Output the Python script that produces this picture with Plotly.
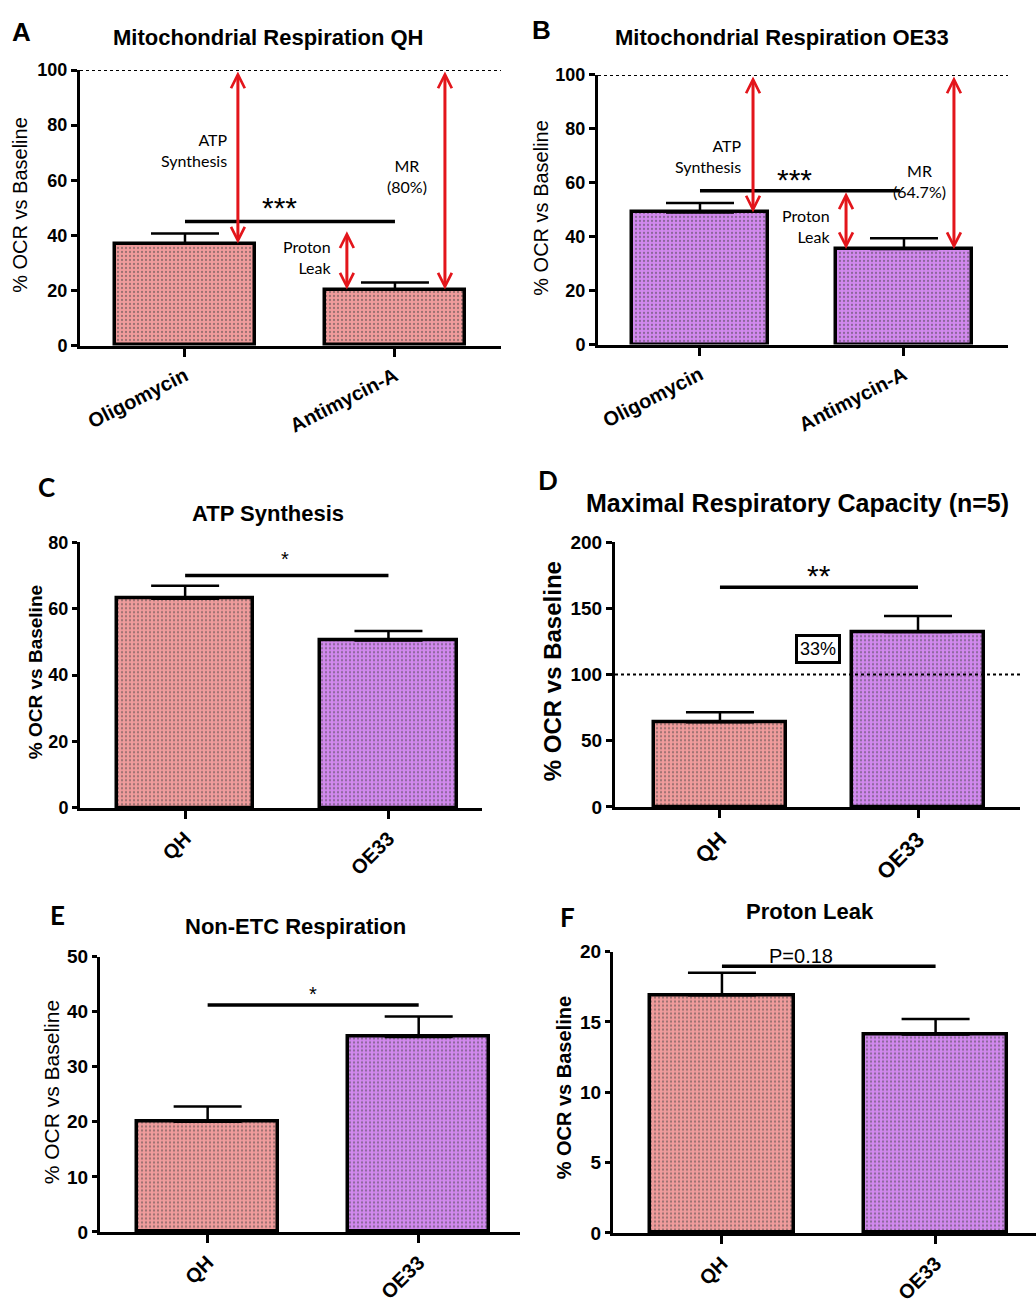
import plotly.graph_objects as go

W, H = 1036, 1304

# ---------------- data ----------------
resp_cats = ["Oligomycin", "Antimycin-A"]
qh_resp_vals = [37.0, 20.3]
qh_resp_err = [3.7, 2.6]
oe_resp_vals = [49.0, 35.4]
oe_resp_err = [3.5, 4.0]

groups = ["QH", "OE33"]
atp_vals = [63.0, 50.4]
atp_err = [3.9, 2.9]
mrc_vals = [64.0, 132.3]
mrc_err = [7.5, 12.0]
netc_vals = [20.0, 35.4]
netc_err = [2.8, 3.7]
leak_vals = [16.9, 14.1]
leak_err = [1.6, 1.1]

sig_labels = ["***", "***", "*", "**", "*", "P=0.18"]
sig_heights = [45, 57, 70, 166, 41.2, 18.95]

PINK_BG, PINK_FG = "#F09C9C", "#A8485A"
PURP_BG, PURP_FG = "#D189EE", "#8A3CAA"

FONT = "Liberation Sans, Arial, sans-serif"
CAL = "Lato, Carlito, sans-serif"


def px(x):
    return x / W


def py(y):
    return 1 - y / H


panels = [
    dict(letter="A", title="Mitochondrial Respiration QH", cats=resp_cats, vals=qh_resp_vals, err=qh_resp_err,
         bgs=[PINK_BG, PINK_BG], fgs=[PINK_FG, PINK_FG], xpx=(80, 501), ypx=(61, 341), yr=(0, 100), dtick=20,
         xr=(-0.5, 1.505), tickangle=-27, xtf=20, ytf=18, ytl=6, letter_pos=(21, 22), letter_font=FONT,
         title_pos=(268, 28), title_size=22, ytitle_pos=(20, 198), ytitle_size=20, ytitle_bold=False),
    dict(letter="B", title="Mitochondrial Respiration OE33", cats=resp_cats, vals=oe_resp_vals, err=oe_resp_err,
         bgs=[PURP_BG, PURP_BG], fgs=[PURP_FG, PURP_FG], xpx=(598, 1008), ypx=(66, 340), yr=(0, 100), dtick=20,
         xr=(-0.5, 1.51), tickangle=-27, xtf=20, ytf=18, ytl=6, letter_pos=(541, 20), letter_font=FONT,
         title_pos=(782, 28), title_size=22, ytitle_pos=(541, 201), ytitle_size=20, ytitle_bold=False),
    dict(letter="C", title="ATP Synthesis", cats=groups, vals=atp_vals, err=atp_err,
         bgs=[PINK_BG, PURP_BG], fgs=[PINK_FG, PURP_FG], xpx=(80, 482), ypx=(541, 811), yr=(0, 80), dtick=20,
         xr=(-0.517, 1.46), tickangle=-45, xtf=20, ytf=18, ytl=5, letter_pos=(46, 485), letter_font=CAL,
         title_pos=(268, 512), title_size=22, ytitle_pos=(35, 673), ytitle_size=19, ytitle_bold=True),
    dict(letter="D", title="Maximal Respiratory Capacity (n=5)", cats=groups, vals=mrc_vals, err=mrc_err,
         bgs=[PINK_BG, PURP_BG], fgs=[PINK_FG, PURP_FG], xpx=(615, 1020), ypx=(541, 810), yr=(0, 200), dtick=50,
         xr=(-0.53, 1.515), tickangle=-45, xtf=22, ytf=19, ytl=6, letter_pos=(548, 478), letter_font=CAL,
         title_pos=(797, 501), title_size=25, ytitle_pos=(552, 672), ytitle_size=24, ytitle_bold=True),
    dict(letter="E", title="Non-ETC Respiration", cats=groups, vals=netc_vals, err=netc_err,
         bgs=[PINK_BG, PURP_BG], fgs=[PINK_FG, PURP_FG], xpx=(100, 520), ypx=(962, 1242), yr=(0, 50), dtick=10,
         xr=(-0.51, 1.48), tickangle=-45, xtf=20, ytf=19, ytl=5, letter_pos=(57, 920), letter_font=CAL,
         title_pos=(295, 932), title_size=22, ytitle_pos=(51, 1100), ytitle_size=21, ytitle_bold=False),
    dict(letter="F", title="Proton Leak", cats=groups, vals=leak_vals, err=leak_err,
         bgs=[PINK_BG, PURP_BG], fgs=[PINK_FG, PURP_FG], xpx=(613, 1036), ypx=(957, 1243), yr=(0, 20), dtick=5,
         xr=(-0.51, 1.47), tickangle=-45, xtf=20, ytf=19, ytl=5, letter_pos=(567, 922), letter_font=CAL,
         title_pos=(810, 916), title_size=22, ytitle_pos=(564, 1096), ytitle_size=20, ytitle_bold=True),
]

fig = go.Figure()
annotations = []
shapes = []

for i, p in enumerate(panels):
    n = "" if i == 0 else str(i + 1)
    xa, ya = "x" + n, "y" + n
    fig.add_trace(go.Bar(
        x=[0, 1], y=p["vals"], width=0.67,
        marker=dict(color=p["bgs"], line=dict(color="black", width=3.5),
                    pattern=dict(shape=".", bgcolor=p["bgs"], fgcolor=p["fgs"], size=4, solidity=0.25)),
        error_y=dict(type="data", array=p["err"], arrayminus=[0, 0], symmetric=False,
                     color="black", thickness=2.5, width=34),
        xaxis=xa, yaxis=ya, showlegend=False, hoverinfo="skip"))
    axcommon = dict(showline=True, linewidth=3, linecolor="black", ticks="outside", tickwidth=2.5,
                    tickcolor="black", showgrid=False, zeroline=False, mirror=False)
    fig.update_layout(**{
        ("xaxis" + n): dict(domain=[px(p["xpx"][0]), px(p["xpx"][1])], range=list(p["xr"]), anchor=ya,
                            tickvals=[0, 1], ticktext=p["cats"], tickangle=p["tickangle"], ticklen=8,
                            tickfont=dict(family=FONT, size=p["xtf"], color="black", weight="bold"),
                            fixedrange=True, **axcommon),
        ("yaxis" + n): dict(domain=[py(p["ypx"][1]), py(p["ypx"][0])], range=list(p["yr"]), anchor=xa,
                            dtick=p["dtick"], ticklen=p["ytl"],
                            tickfont=dict(family=FONT, size=p["ytf"], color="black", weight="bold"),
                            fixedrange=True, **axcommon),
    })
    # panel letter
    annotations.append(dict(text=p["letter"], x=px(p["letter_pos"][0]), y=py(p["letter_pos"][1]),
                            xref="paper", yref="paper", showarrow=False, xanchor="center", yanchor="middle",
                            font=dict(family=p["letter_font"], size=26, color="black", weight="bold")))
    # title
    annotations.append(dict(text=p["title"], x=px(p["title_pos"][0]), y=py(p["title_pos"][1]),
                            xref="paper", yref="paper", showarrow=False, xanchor="center", yanchor="middle",
                            font=dict(family=FONT, size=p["title_size"], color="black", weight="bold")))
    # y title
    annotations.append(dict(text="% OCR vs Baseline", x=px(p["ytitle_pos"][0]), y=py(p["ytitle_pos"][1]),
                            xref="paper", yref="paper", showarrow=False, textangle=-90,
                            xanchor="center", yanchor="middle",
                            font=dict(family=FONT, size=p["ytitle_size"], color="black",
                                      weight="bold" if p["ytitle_bold"] else "normal")))
    # significance bar
    shapes.append(dict(type="line", xref=xa, yref=ya, x0=0, x1=1 if i != 1 else 0.98,
                       y0=sig_heights[i], y1=sig_heights[i], line=dict(color="black", width=3.5)))

# significance labels
sig_label_pos = [(0.452, 50.0, 30), (0.461, 61.3, 30), (0.49, 75, 20), (0.5, 174.7, 30), (0.5, 43.2, 20), (0.37, 19.7, 20)]
for i, (x, y, s) in enumerate(sig_label_pos):
    n = "" if i == 0 else str(i + 1)
    annotations.append(dict(text=sig_labels[i], x=x, y=y, xref="x" + n, yref="y" + n, showarrow=False,
                            xanchor="center", yanchor="middle",
                            font=dict(family=FONT, size=s, color="black")))

# dotted 100 % reference lines (A, B, D)
for n in ["", "2", "4"]:
    shapes.append(dict(type="line", xref="x" + n + " domain", yref="y" + n, x0=0, x1=1, y0=100, y1=100,
                       line=dict(color="black", width=2, dash="dot")))

RED = "#E3151B"


def darrow(axis, x, y0, y1):
    annotations.append(dict(text="", x=x, y=y1, ax=x, ay=y0, xref="x" + axis, yref="y" + axis,
                            axref="x" + axis, ayref="y" + axis, showarrow=True, arrowside="end+start",
                            arrowhead=5, startarrowhead=5, arrowsize=0.9, startarrowsize=0.9,
                            arrowwidth=3, arrowcolor=RED))


# panel A arrows
darrow("", 0.252, 100, qh_resp_vals[0])
darrow("", 0.771, 42, qh_resp_vals[1])
darrow("", 1.238, 100, qh_resp_vals[1])
# panel B arrows
darrow("2", 0.26, 100, oe_resp_vals[0])
darrow("2", 0.716, sig_heights[1], oe_resp_vals[1])
darrow("2", 1.245, 100, oe_resp_vals[1])


def note(axis, text, x, y, xanchor, align):
    annotations.append(dict(text=text, x=x, y=y, xref="x" + axis, yref="y" + axis, showarrow=False,
                            xanchor=xanchor, yanchor="middle", align=align,
                            font=dict(family=CAL, size=16, color="black")))


note("", "ATP<br>Synthesis", 0.214, 70.9, "right", "right")
note("", "MR<br>(80%)", 1.057, 61.6, "center", "center")
note("", "Proton<br>Leak", 0.705, 32, "right", "right")
note("2", "ATP<br>Synthesis", 0.216, 69.9, "right", "right")
note("2", "MR<br>(64.7%)", 1.078, 60.8, "center", "center")
note("2", "Proton<br>Leak", 0.647, 44, "right", "right")

# 33% box in D
annotations.append(dict(text="33%", x=0.495, y=119, xref="x4", yref="y4", showarrow=False,
                        xanchor="center", yanchor="middle", bgcolor="white", bordercolor="black",
                        borderwidth=3, borderpad=2, font=dict(family=FONT, size=18, color="black")))

fig.update_layout(width=W, height=H, margin=dict(l=0, r=0, t=0, b=0), plot_bgcolor="white",
                  paper_bgcolor="white", annotations=annotations, shapes=shapes, showlegend=False,
                  bargap=0)

fig.write_html("out.html")
